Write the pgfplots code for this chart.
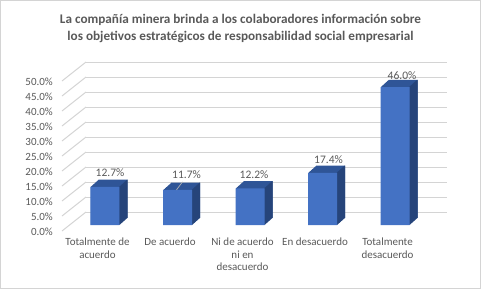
\documentclass[border=0pt]{standalone}
\usepackage{pgfplots}
\pgfplotsset{compat=1.18}
\usepackage{pgfplotstable}
\usepackage{fontspec}
\setmainfont{Carlito}
\definecolor{txt}{HTML}{595959}
\definecolor{gridc}{HTML}{D4D4D4}
\definecolor{frontc}{HTML}{4472C4}
\definecolor{topc}{HTML}{2F5597}
\definecolor{sidec}{HTML}{264478}
\pgfplotstableread{
x v dx dy
0 12.7 5 14
1 11.7 9 15
2 12.2 4 14
3 17.4 6 13
4 46.0 7 11
}\datatab
\begin{document}
\begin{tikzpicture}[x=1pt,y=1pt]
\useasboundingbox (0,0) rectangle (481,289);
\draw[gridc,line width=0.8pt] (0.5,0.5) rectangle (480.5,288.5);
\node[align=center,text=txt,font=\bfseries\fontsize{13.2}{17}\selectfont] at (240.5,260.5)
  {La compañía minera brinda a los colaboradores información sobre\\los objetivos estratégicos de responsabilidad social empresarial};
\begin{axis}[
  at={(86pt,64pt)}, anchor=south west,
  scale only axis, width=361pt, height=150pt,
  xmin=-0.262, xmax=4.717, ymin=0, ymax=50,
  clip=false,
  axis line style={draw=none}, major tick length=0pt,
  ytick={0,5,...,50},
  yticklabel={\pgfmathprintnumber[fixed,fixed zerofill,precision=1]{\tick}\%},
  /pgf/number format/assume math mode=true,
  yticklabel style={anchor=east,inner sep=0pt,xshift=-33pt,yshift=-6.5pt,text=txt,font=\fontsize{11}{12}\selectfont},
  xtick={0,1,2,3,4},
  xticklabels={{Totalmente de\\acuerdo},{De acuerdo},{Ni de acuerdo\\ni en\\desacuerdo},{En desacuerdo},{Totalmente\\desacuerdo}},
  xticklabel style={anchor=north,align=center,inner sep=0pt,xshift=-7.5pt,yshift=-13pt,text=txt,font=\fontsize{11}{12.4}\selectfont},
]
\pgfplotsinvokeforeach{0,5,10,15,20,25,30,35,40,45,50}{
  \draw[gridc,line width=1pt] ([yshift=13pt]axis cs:-0.262,#1) -- ([yshift=13pt]axis cs:4.717,#1);
  \draw[gridc,line width=1pt] ([xshift=-24pt,yshift=-6pt]axis cs:-0.262,#1) -- ([yshift=13pt]axis cs:-0.262,#1);
}
% top-face sweep
\pgfplotsinvokeforeach{16,15,...,1}{
  \addplot[ybar,bar width=29pt,bar shift=#1*0.5pt,yshift=#1*0.45pt,fill=topc,draw=none] table[x=x,y=v] {\datatab};
}
% side-face sweep
\pgfplotsinvokeforeach{16,15,...,1}{
  \addplot[ybar,bar width=0.8pt,bar shift=14.5pt+#1*0.5pt-0.25pt,yshift=#1*0.45pt,fill=sidec,draw=none] table[x=x,y=v] {\datatab};
}
% front face
\addplot[ybar,bar width=29pt,bar shift=0pt,fill=frontc,draw=none,
  visualization depends on={\thisrow{dx} \as \ldx},
  visualization depends on={\thisrow{dy} \as \ldy},
  nodes near coords={\pgfmathprintnumber[fixed,fixed zerofill,precision=1]{\pgfplotspointmeta}\%},
  every node near coord/.append style={anchor=center,xshift=\ldx pt,yshift=\ldy pt,text=txt,font=\fontsize{11.5}{12}\selectfont,/pgf/number format/assume math mode=true}
] table[x=x,y=v] {\datatab};
\draw[gray!60,line width=0.7pt] ([xshift=-1pt]axis cs:1,11.7) -- ([xshift=5pt,yshift=8pt]axis cs:1,11.7);
\end{axis}
\end{tikzpicture}
\end{document}
